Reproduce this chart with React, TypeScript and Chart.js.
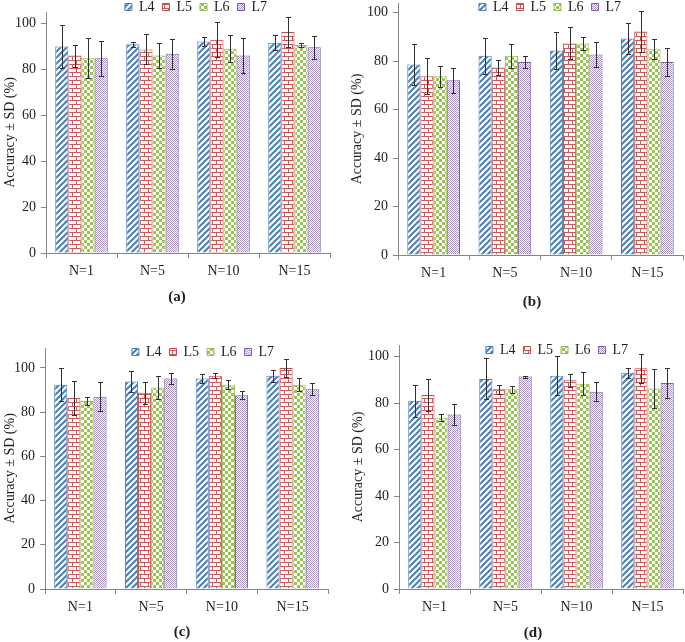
import React, { useEffect, useRef } from 'react';
import { Chart, registerables } from 'chart.js';

Chart.register(...registerables);

// ---------- data ----------
const categories = ['N=1', 'N=5', 'N=10', 'N=15'];
const seriesNames = ['L4', 'L5', 'L6', 'L7'];
const yAxisTitle = 'Accuracy ± SD (%)';
const yTickStep = 20;
const yTickTop = 100;

// panel (a)
const aL4 = [90.0, 90.9, 92.2, 91.6];
const aL4sd = [9.3, 1.1, 1.9, 3.3];
const aL5 = [86.0, 88.7, 92.9, 96.3];
const aL5sd = [4.8, 6.5, 7.7, 6.7];
const aL6 = [84.9, 86.0, 89.0, 90.6];
const aL6sd = [8.8, 5.6, 5.9, 0.9];
const aL7 = [84.9, 86.8, 86.0, 89.6];
const aL7sd = [7.6, 6.5, 7.7, 5.1];

// panel (b)
const bL4 = [78.6, 82.2, 84.4, 89.3];
const bL4sd = [8.6, 7.5, 7.8, 6.5];
const bL5 = [73.8, 77.4, 87.3, 92.2];
const bL5sd = [7.5, 3.0, 6.6, 8.4];
const bL6 = [73.8, 82.2, 87.3, 84.9];
const bL6sd = [4.3, 5.0, 2.5, 4.1];
const bL7 = [72.1, 79.7, 82.7, 79.7];
const bL7sd = [5.1, 2.6, 5.0, 5.7];

// panel (c)
const cL4 = [92.4, 93.9, 95.2, 96.4];
const cL4sd = [7.4, 4.8, 2.2, 2.6];
const cL5 = [86.4, 88.8, 96.4, 100.0];
const cL5sd = [7.9, 5.0, 1.1, 3.9];
const cL6 = [85.0, 91.1, 92.4, 92.4];
const cL6sd = [1.7, 5.2, 2.0, 3.0];
const cL7 = [86.9, 95.2, 87.6, 90.3];
const cL7sd = [6.5, 2.7, 1.8, 2.7];

// panel (d)
const dL4 = [81.0, 90.4, 91.8, 93.1];
const dL4sd = [7.0, 8.8, 8.3, 2.2];
const dL5 = [83.5, 86.0, 89.8, 95.0];
const dL5sd = [7.0, 1.9, 2.7, 6.3];
const dL6 = [73.7, 86.0, 88.3, 86.3];
const dL6sd = [1.4, 1.5, 5.0, 8.2];
const dL7 = [75.1, 91.4, 84.9, 88.6];
const dL7sd = [4.5, 0.4, 4.2, 6.3];

// ---------- styles / layout ----------
const SERIF = "'Liberation Serif', 'Times New Roman', serif";
const TEXT = '#1e1e1e';
const AXIS = '#868686';
const seriesColors = ['#4A7EBB', '#BE4B48', '#98B954', '#7D60A0'];
const LEGEND_PAD = 8;
const LEGEND_FONT = 14;

type Geo = {
  label: string; left: number; top: number; W: number; H: number;
  padL: number; padR: number; padT: number; yW: number; xH: number;
  yMax: number; legendX: number; legendY: number; titleX: number;
  titlePadTop: number; titlePadBottom: number;
};

const panels: { geo: Geo; means: number[][]; sds: number[][] }[] = [
  {
    geo: { label: '(a)', left: 0, top: 0, W: 340, H: 310, padL: 0, padR: 10, padT: 12, yW: 46, xH: 30,
      yMax: 105, legendX: 196, legendY: 7, titleX: 177, titlePadTop: 5, titlePadBottom: 4 },
    means: [aL4, aL5, aL6, aL7], sds: [aL4sd, aL5sd, aL6sd, aL7sd],
  },
  {
    geo: { label: '(b)', left: 340, top: 0, W: 345, H: 315, padL: 7, padR: 2, padT: 3, yW: 51, xH: 30,
      yMax: 104, legendX: 210, legendY: 7, titleX: 192, titlePadTop: 8, titlePadBottom: 4 },
    means: [bL4, bL5, bL6, bL7], sds: [bL4sd, bL5sd, bL6sd, bL7sd],
  },
  {
    geo: { label: '(c)', left: 0, top: 330, W: 340, H: 312, padL: 0, padR: 12, padT: 18, yW: 45, xH: 30,
      yMax: 109, legendX: 203, legendY: 22, titleX: 182, titlePadTop: 4, titlePadBottom: 1 },
    means: [cL4, cL5, cL6, cL7], sds: [cL4sd, cL5sd, cL6sd, cL7sd],
  },
  {
    geo: { label: '(d)', left: 340, top: 330, W: 345, H: 312, padL: 8, padR: 2, padT: 15, yW: 51, xH: 30,
      yMax: 105, legendX: 217, legendY: 20, titleX: 193, titlePadTop: 5, titlePadBottom: 0 },
    means: [dL4, dL5, dL6, dL7], sds: [dL4sd, dL5sd, dL6sd, dL7sd],
  },
];

function makePatterns(ctx: CanvasRenderingContext2D) {
  const tile = (w: number, h: number, draw: (g: CanvasRenderingContext2D) => void) => {
    const c = document.createElement('canvas');
    c.width = w; c.height = h;
    const g = c.getContext('2d')!;
    g.fillStyle = '#ffffff';
    g.fillRect(0, 0, w, h);
    draw(g);
    return ctx.createPattern(c, 'repeat')!;
  };
  const diag = tile(6, 6, (g) => {
    g.strokeStyle = seriesColors[0];
    g.lineWidth = 2;
    g.beginPath();
    g.moveTo(-1, 1); g.lineTo(1, -1);
    g.moveTo(-1, 7); g.lineTo(7, -1);
    g.moveTo(5, 7); g.lineTo(7, 5);
    g.stroke();
  });
  const brick = tile(8, 8, (g) => {
    g.fillStyle = '#CC5A57';
    g.fillRect(0, 0, 8, 1);
    g.fillRect(0, 4, 8, 1);
    g.fillRect(0, 0, 1, 4);
    g.fillRect(4, 4, 1, 4);
  });
  const checker = tile(6, 6, (g) => {
    g.fillStyle = '#9BC25A';
    g.fillRect(0, 0, 3, 3);
    g.fillRect(3, 3, 3, 3);
  });
  const confetti = tile(4, 4, (g) => {
    g.fillStyle = '#A893C4';
    for (let yy = 0; yy < 4; yy++) for (let xx = 0; xx < 4; xx++) {
      if ((xx + yy) % 2 === 0) g.fillRect(xx, yy, 1, 1);
    }
  });
  return [diag, brick, checker, confetti];
}

function Panel({ geo, means, sds }: { geo: Geo; means: number[][]; sds: number[][] }) {
  const ref = useRef<HTMLCanvasElement | null>(null);
  useEffect(() => {
    const canvas = ref.current!;
    const ctx = canvas.getContext('2d')!;
    const patterns = makePatterns(ctx);

    const errorBars = {
      id: 'errorBars',
      afterDatasetsDraw(chart: any) {
        const c = chart.ctx;
        const y = chart.scales.y;
        c.save();
        c.strokeStyle = '#303030';
        c.lineWidth = 1;
        chart.data.datasets.forEach((ds: any, di: number) => {
          const meta = chart.getDatasetMeta(di);
          meta.data.forEach((bar: any, i: number) => {
            const m = ds.data[i];
            const s = sds[di][i];
            const x = Math.round(bar.x) + 0.5;
            const yt = Math.round(y.getPixelForValue(m + s)) + 0.5;
            const yb = Math.round(y.getPixelForValue(m - s)) + 0.5;
            c.beginPath();
            c.moveTo(x, yt); c.lineTo(x, yb);
            c.moveTo(x - 2.5, yt); c.lineTo(x + 2.5, yt);
            c.moveTo(x - 2.5, yb); c.lineTo(x + 2.5, yb);
            c.stroke();
          });
        });
        c.restore();
      },
    };

    // legend floats over the plot (takes no layout space), title nudged horizontally
    const shifter = {
      id: 'shifter',
      afterInit(chart: any) {
        const lg = chart.legend;
        if (lg && !lg.__patched) {
          const f = lg.fit.bind(lg);
          lg.fit = () => { f(); lg.height = 0; };
          lg.__patched = true;
        }
      },
      afterLayout(chart: any) {
        const lg = chart.legend;
        if (lg) {
          const dx = geo.legendX - (lg.left + lg.right) / 2;
          lg.left += dx; lg.right += dx;
          const newTop = geo.legendY - LEGEND_PAD - LEGEND_FONT / 2;
          lg.top = newTop;
          lg.bottom = newTop + 2 * LEGEND_PAD + 2 * LEGEND_FONT;
          lg.height = lg.bottom - lg.top;
        }
        const t = chart.titleBlock;
        if (t) {
          const dx = geo.titleX - (t.left + t.right) / 2;
          t.left += dx; t.right += dx;
        }
      },
    };

    const chart = new Chart(canvas, {
      type: 'bar',
      data: {
        labels: categories,
        datasets: means.map((m, i) => ({
          label: seriesNames[i],
          data: m,
          backgroundColor: patterns[i],
          borderColor: seriesColors[i],
          borderWidth: 1,
          categoryPercentage: 0.74,
          barPercentage: 1,
        })),
      },
      options: {
        animation: false,
        responsive: false,
        devicePixelRatio: 1,
        layout: { padding: { left: geo.padL, right: geo.padR, top: geo.padT, bottom: 0 } },
        plugins: {
          legend: {
            position: 'top',
            align: 'center',
            labels: {
              boxWidth: 7, boxHeight: 7, padding: LEGEND_PAD,
              color: TEXT,
              font: { family: SERIF, size: LEGEND_FONT },
            },
          },
          title: {
            display: true,
            position: 'bottom',
            text: geo.label,
            color: TEXT,
            font: { family: SERIF, size: 15, weight: 'bold', lineHeight: 1.2 },
            padding: { top: geo.titlePadTop, bottom: geo.titlePadBottom },
          },
          tooltip: { enabled: false },
        },
        scales: {
          x: {
            grid: { display: true, drawOnChartArea: false, drawTicks: true, tickLength: 5, color: AXIS },
            border: { display: true, color: AXIS },
            ticks: { color: TEXT, font: { family: SERIF, size: 14 }, padding: 5 },
            afterFit: (s: any) => { s.height = geo.xH; s.paddingLeft = 0; s.paddingRight = 0; },
          },
          y: {
            min: 0,
            max: geo.yMax,
            grid: { display: true, drawOnChartArea: false, drawTicks: true, tickLength: 5, color: AXIS },
            border: { display: true, color: AXIS },
            ticks: { stepSize: yTickStep, includeBounds: false, color: TEXT, font: { family: SERIF, size: 14 }, padding: 5 },
            afterBuildTicks: (s: any) => { s.ticks = s.ticks.filter((t: any) => t.value <= yTickTop && t.value % yTickStep === 0); },
            title: {
              display: true,
              text: yAxisTitle,
              color: TEXT,
              font: { family: SERIF, size: 14 },
              padding: { top: 2, bottom: 0 },
            },
            afterFit: (s: any) => { s.width = geo.yW; s.paddingTop = 0; s.paddingBottom = 0; },
          },
        },
      } as any,
      plugins: [errorBars, shifter],
    });
    return () => chart.destroy();
  }, []);
  return (
    <canvas
      ref={ref}
      width={geo.W}
      height={geo.H}
      style={{ position: 'absolute', left: geo.left, top: geo.top, width: geo.W, height: geo.H }}
    />
  );
}

export default function App() {
  return (
    <div style={{ position: 'absolute', left: 0, top: 0, width: 685, height: 642, overflow: 'hidden', background: '#fff' }}>
      {panels.map((p, i) => (
        <Panel key={i} geo={p.geo} means={p.means} sds={p.sds} />
      ))}
    </div>
  );
}
